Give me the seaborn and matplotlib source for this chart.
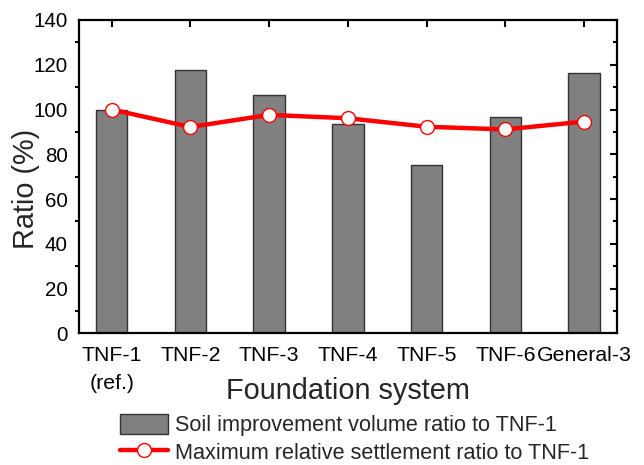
import matplotlib
matplotlib.use("Agg")
import matplotlib.pyplot as plt
import seaborn as sns
import pandas as pd
from matplotlib.ticker import MultipleLocator

systems = ["TNF-1\n(ref.)", "TNF-2", "TNF-3", "TNF-4", "TNF-5", "TNF-6", "General-3"]
volume_ratio = [100.0, 117.8, 106.6, 93.6, 75.2, 96.5, 116.4]
settlement_ratio = [100.0, 92.2, 97.6, 96.1, 92.3, 91.1, 94.6]

df = pd.DataFrame({"system": systems, "volume": volume_ratio, "settlement": settlement_ratio})

sns.set_theme(style="white")
plt.rcParams["font.family"] = ["Liberation Sans", "DejaVu Sans"]

fig = plt.figure(figsize=(6.44, 4.65), dpi=100)
ax = fig.add_axes([79 / 644, 1 - 333.3 / 465, (616.7 - 79) / 644, (333.3 - 20) / 465])

sns.barplot(data=df, x="system", y="volume", ax=ax, color="#808080", width=0.4,
            edgecolor="#333333", linewidth=1.0, saturation=1,
            label="Soil improvement volume ratio to TNF-1")
sns.lineplot(data=df, x="system", y="settlement", ax=ax, color="red", linewidth=3.2,
             marker="o", markersize=10, markerfacecolor="white", markeredgecolor="red",
             markeredgewidth=1.0, label="Maximum relative settlement ratio to TNF-1",
             sort=False)

ax.set_xlim(-0.415, 6.415)
ax.set_ylim(0, 140)
ax.yaxis.set_major_locator(MultipleLocator(20))
ax.yaxis.set_minor_locator(MultipleLocator(10))

for side in ["left", "right", "top", "bottom"]:
    ax.spines[side].set_visible(True)
    ax.spines[side].set_color("black")
    ax.spines[side].set_linewidth(1.6)

# outward ticks on bottom/left
ax.tick_params(axis="both", which="major", length=5, width=1.5, color="black",
               labelcolor="black", pad=3, direction="out")
ax.tick_params(axis="y", which="major", labelsize=14.8)
ax.tick_params(axis="x", which="major", labelsize=15.3, pad=4)
ax.tick_params(axis="y", which="minor", length=3, width=1.5, color="black",
               direction="out", left=True)
ax.tick_params(axis="x", which="minor", bottom=False)
for lbl in ax.get_xticklabels():
    lbl.set_linespacing(1.6)

# inward ticks on top/right
top = ax.secondary_xaxis("top")
top.set_xticks(ax.get_xticks())
top.tick_params(axis="x", which="major", direction="in", length=5, width=1.5,
                color="black", labeltop=False)
top.spines["top"].set_visible(False)
right = ax.secondary_yaxis("right")
right.yaxis.set_major_locator(MultipleLocator(20))
right.yaxis.set_minor_locator(MultipleLocator(10))
right.tick_params(axis="y", which="major", direction="in", length=5, width=1.5,
                  color="black", labelright=False)
right.tick_params(axis="y", which="minor", direction="in", length=3, width=1.5,
                  color="black")
right.spines["right"].set_visible(False)

ax.set_xlabel("Foundation system", fontsize=20.8)
ax.xaxis.set_label_coords(0.5, -0.138)
ax.set_ylabel("Ratio (%)", fontsize=20.8)
ax.yaxis.set_label_coords(-0.072, 0.46)

if ax.get_legend():
    ax.get_legend().remove()
handles, labels = ax.get_legend_handles_labels()
order = [labels.index("Soil improvement volume ratio to TNF-1"),
         labels.index("Maximum relative settlement ratio to TNF-1")]
leg = fig.legend([handles[i] for i in order], [labels[i] for i in order],
                 loc="center left", bbox_to_anchor=(120 / 644, 1 - 439 / 465),
                 frameon=False, fontsize=15.6, handlelength=2.2, handleheight=1.05,
                 handletextpad=0.35, labelspacing=0.25, borderpad=0, borderaxespad=0)

fig.savefig("out.png", dpi=100)
